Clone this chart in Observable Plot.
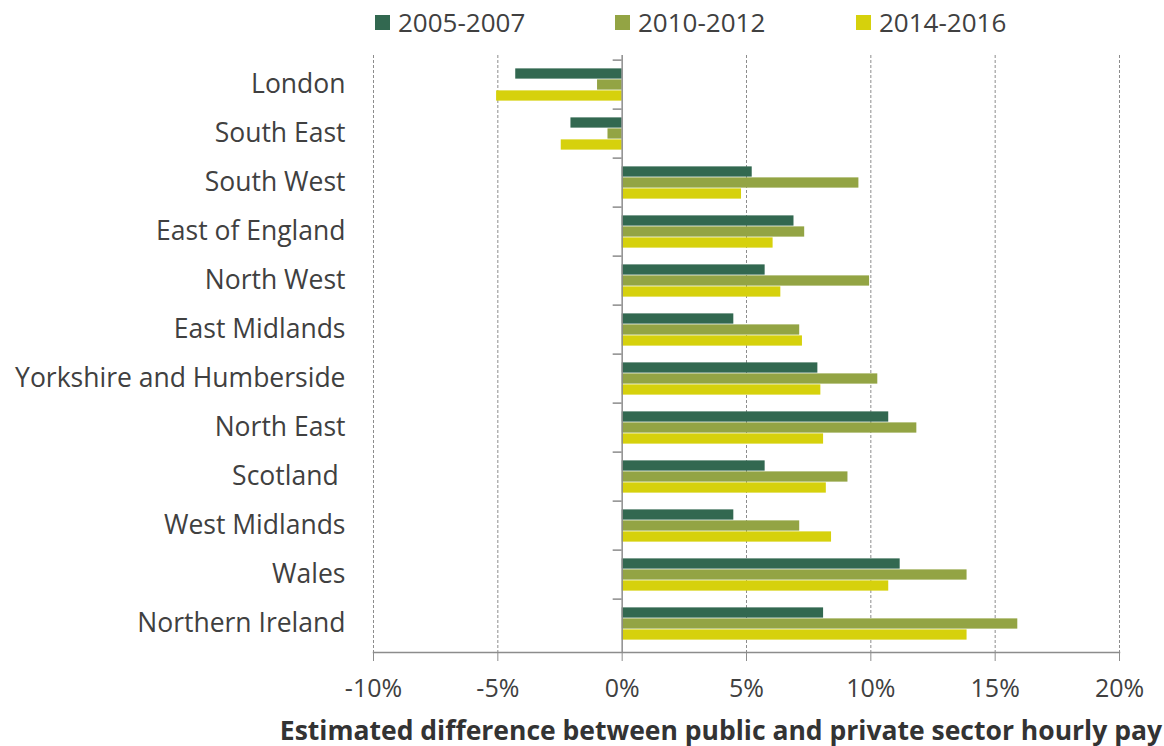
<!DOCTYPE html>
<html>
<head>
<meta charset="utf-8">
<script src="https://cdn.jsdelivr.net/npm/d3@7"></script>
<script src="https://cdn.jsdelivr.net/npm/@observablehq/plot@0.6"></script>
<style>
  html, body { margin: 0; padding: 0; background: #fff; }
  body { width: 1164px; height: 746px; position: relative; overflow: hidden; font-family: "Open Sans", "Noto Sans", sans-serif; color: #404040; }
  #legend { position: absolute; top: 0; left: 0; width: 1164px; height: 48px; }
  .item { position: absolute; top: 5px; font-size: 26px; line-height: 34px; display: flex; align-items: center; }
  .sw { width: 15px; height: 15px; margin-right: 8px; display: inline-block; }
  #chart { position: absolute; top: 48px; left: 0; }
  #caption { position: absolute; top: 716px; right: 2px; font-size: 26.5px; font-weight: 700; line-height: 29px; height: 29px; color: #333; white-space: nowrap; }
</style>
</head>
<body>
<div id="legend"></div>
<div id="chart"></div>
<div id="caption">Estimated difference between public and private sector hourly pay</div>
<script>
const regions = ["London", "South East", "South West", "East of England", "North West", "East Midlands",
  "Yorkshire and Humberside", "North East", "Scotland\u00a0", "West Midlands", "Wales", "Northern Ireland"];
const seriesNames = ["2005-2007", "2010-2012", "2014-2016"];
const v2005 = [-4.28, -2.06, 5.23, 6.91, 5.75, 4.49, 7.87, 10.72, 5.75, 4.49, 11.18, 8.10];
const v2010 = [-0.99, -0.57, 9.52, 7.34, 9.95, 7.14, 10.28, 11.85, 9.08, 7.14, 13.87, 15.91];
const v2014 = [-5.05, -2.45, 4.80, 6.07, 6.38, 7.25, 7.99, 8.10, 8.21, 8.42, 10.72, 13.87];
const xTicks = [-10, -5, 0, 5, 10, 15, 20];
const colors = ["#326850", "#93a444", "#d6d10c"];

const seriesValues = [v2005, v2010, v2014];
const rows = seriesValues.map((vals, s) => regions.map((r, i) => ({region: r, series: seriesNames[s], value: vals[i]})));

// legend
const legendLeft = [375, 615, 856];
const legend = document.getElementById("legend");
seriesNames.forEach((name, i) => {
  const it = document.createElement("div");
  it.className = "item";
  it.style.left = legendLeft[i] + "px";
  it.innerHTML = `<span class="sw" style="background:${colors[i]}"></span><span>${name}</span>`;
  legend.appendChild(it);
});

const width = 1164, height = 664;
const marginLeft = 373, marginRight = 45, marginTop = 7, marginBottom = 60;
const band = (height - marginTop - marginBottom) / regions.length;
const barH = 11;
const inset = (band - barH) / 2;
const tickLen = 9 * 30 / (width - marginLeft - marginRight);

const barMarks = rows.map((data, s) => Plot.barX(data, {
  y: "region", x1: 0, x2: "value", fill: colors[s],
  insetTop: inset, insetBottom: inset, dy: (s - 1) * barH
}));

const chart = Plot.plot({
  width, height, marginLeft, marginRight, marginTop, marginBottom,
  style: {fontFamily: "'Open Sans', 'Noto Sans', sans-serif", fontSize: "24px", color: "#404040", background: "#fff"},
  x: {domain: [-10, 20], ticks: xTicks, tickFormat: d => d + "%", label: null},
  y: {domain: regions, padding: 0, label: null},
  marks: [
    Plot.ruleX(xTicks.filter(d => d !== 0), {stroke: "#8c8c8c", strokeDasharray: "3,2", strokeWidth: 1}),
    ...barMarks,
    Plot.ruleX([0], {stroke: "#8c8c8c", strokeWidth: 1.5}),
    Plot.ruleY(regions, {y: d => d, x1: -tickLen, x2: 0, dy: -band / 2, stroke: "#8c8c8c", strokeWidth: 1.5}),
    Plot.frame({anchor: "bottom", stroke: "#8c8c8c", strokeWidth: 1.5}),
    Plot.axisX({ticks: xTicks, tickFormat: d => d + "%", tickSize: 9, tickPadding: 18, stroke: "#8c8c8c", fill: "#404040", label: null, fontSize: 25}),
    Plot.axisY({tickSize: 0, tickPadding: 28, label: null, fontSize: 26.5, fill: "#404040"})
  ]
});
document.getElementById("chart").appendChild(chart);
</script>
</body>
</html>
